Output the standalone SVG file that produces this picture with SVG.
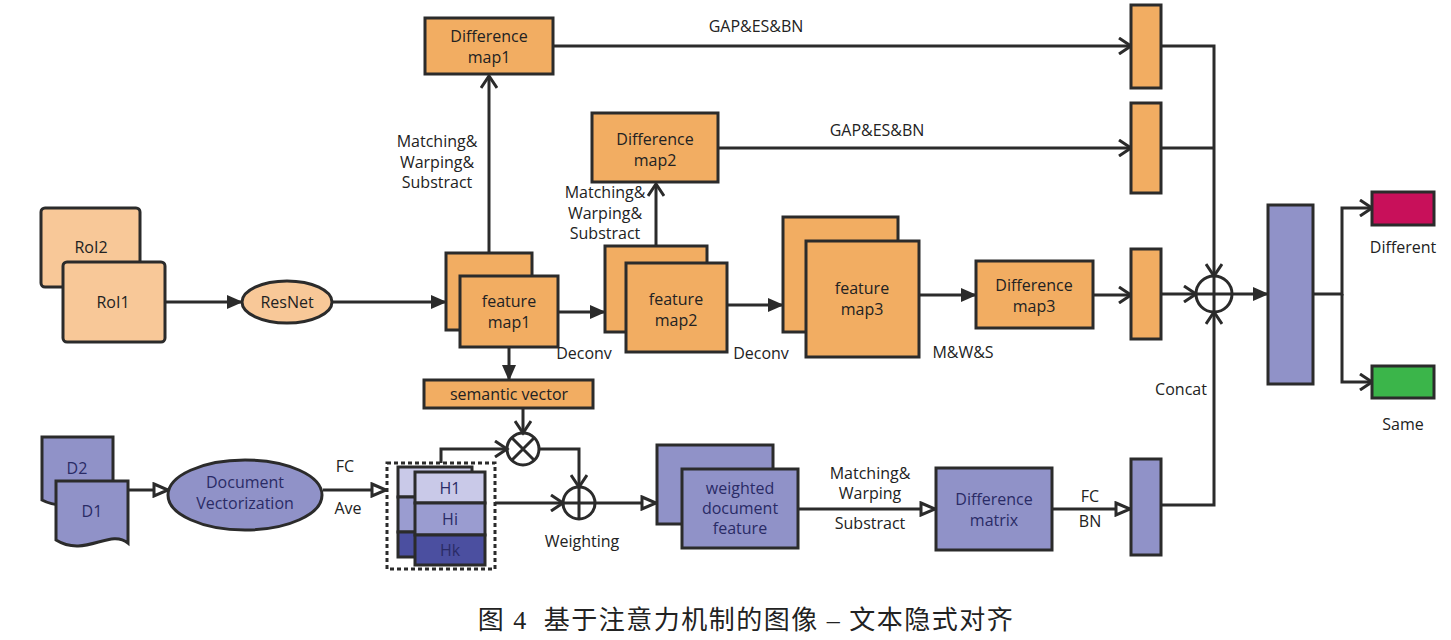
<svg xmlns="http://www.w3.org/2000/svg" width="1451" height="640" viewBox="0 0 1451 640">
<defs>
<marker id="fa" markerUnits="userSpaceOnUse" markerWidth="16" markerHeight="14" refX="15" refY="7" orient="auto"><path d="M0,0 L16,7 L0,14 z" fill="#2b2b2b"/></marker>
<marker id="va" markerUnits="userSpaceOnUse" markerWidth="16" markerHeight="18" refX="13" refY="9" orient="auto"><path d="M1,1 L13,9 L1,17" fill="none" stroke="#2b2b2b" stroke-width="3"/></marker>
<marker id="ha" markerUnits="userSpaceOnUse" markerWidth="18" markerHeight="16" refX="16" refY="8" orient="auto"><path d="M2,2 L16,8 L2,14 z" fill="#fff" stroke="#2b2b2b" stroke-width="3"/></marker>
</defs>
<style>
.o{fill:#f2ad62;stroke:#2b2b2b;stroke-width:3}
.p{fill:#f8c898;stroke:#2b2b2b;stroke-width:3}
.u{fill:#9092c8;stroke:#2b2b2b;stroke-width:3}
.c{fill:none;stroke:#2b2b2b;stroke-width:3}
text{font-family:"Open Sans","Noto Sans",sans-serif;font-size:16px;fill:#222;text-anchor:middle}
.n{fill:#2a2b66}
.cap{font-family:"Liberation Serif","Noto Sans CJK SC",serif;font-size:26px;letter-spacing:1.5px;fill:#222;white-space:pre}
</style>
<rect width="1451" height="640" fill="#fff"/>

<g id="connectors">
<path class="c" d="M165,302 H242" marker-end="url(#fa)"/>
<path class="c" d="M332,302 H446" marker-end="url(#fa)"/>
<path class="c" d="M489,253 V76" marker-end="url(#va)"/>
<path class="c" d="M656,246 V184" marker-end="url(#va)"/>
<path class="c" d="M558,312 H605" marker-end="url(#fa)"/>
<path class="c" d="M727,305 H783" marker-end="url(#fa)"/>
<path class="c" d="M919,295 H976" marker-end="url(#fa)"/>
<path class="c" d="M1093,295 H1131" marker-end="url(#va)"/>
<path class="c" d="M553,46 H1131" marker-end="url(#va)"/>
<path class="c" d="M718,148 H1131" marker-end="url(#va)"/>
<path class="c" d="M1161,46 H1214 V276" marker-end="url(#va)"/>
<path class="c" d="M1161,148 H1214"/>
<path class="c" d="M1161,294 H1196" marker-end="url(#va)"/>
<path class="c" d="M1161,505 H1214 V312" marker-end="url(#va)"/>
<path class="c" d="M1232,294 H1268" marker-end="url(#fa)"/>
<path class="c" d="M1313,294 H1342 V208 H1372" marker-end="url(#va)"/>
<path class="c" d="M1342,294 V382 H1372" marker-end="url(#va)"/>
<path class="c" d="M509,347 V380" marker-end="url(#fa)"/>
<path class="c" d="M523,408 V433" marker-end="url(#va)"/>
<path class="c" d="M441,463 V449 H507" marker-end="url(#va)"/>
<path class="c" d="M539,449 H579 V487" marker-end="url(#va)"/>
<path class="c" d="M495,503 H563" marker-end="url(#va)"/>
<path class="c" d="M595,503 H656" marker-end="url(#ha)"/>
<path class="c" d="M128,490 H168" marker-end="url(#ha)"/>
<path class="c" d="M323,490 H386" marker-end="url(#ha)"/>
<path class="c" d="M798,509 H935" marker-end="url(#ha)"/>
<path class="c" d="M1052,509 H1130" marker-end="url(#ha)"/>
<text x="437" y="147">Matching&amp;</text>
<text x="437" y="168">Warping&amp;</text>
<text x="437" y="188">Substract</text>
<text x="605" y="198">Matching&amp;</text>
<text x="605" y="219">Warping&amp;</text>
<text x="605" y="239">Substract</text>
<text x="756" y="32">GAP&amp;ES&amp;BN</text>
<text x="877" y="136">GAP&amp;ES&amp;BN</text>
<text x="584" y="359">Deconv</text>
<text x="761" y="359">Deconv</text>
<text x="963" y="358">M&amp;W&amp;S</text>
<text x="1181" y="395">Concat</text>
<text x="345" y="472">FC</text>
<text x="348" y="514">Ave</text>
<text x="582" y="547">Weighting</text>
<text x="870" y="479">Matching&amp;</text>
<text x="870" y="499">Warping</text>
<text x="870" y="529">Substract</text>
<text x="1090" y="502">FC</text>
<text x="1090" y="527">BN</text>
</g>

<g id="roi2"><rect class="p" x="41" y="208" width="99" height="79" rx="4"/><text x="91" y="253">RoI2</text></g>
<g id="roi1"><rect class="p" x="63" y="262" width="102" height="80" rx="4"/><text x="113" y="308">RoI1</text></g>
<g id="resnet"><ellipse class="p" cx="287" cy="302" rx="45" ry="21"/><text x="287" y="308">ResNet</text></g>

<g id="diffmap1"><rect class="o" x="425" y="18" width="128" height="56"/><text x="489" y="42">Difference</text><text x="489" y="63">map1</text></g>
<g id="diffmap2"><rect class="o" x="592" y="113" width="126" height="69"/><text x="655" y="145">Difference</text><text x="655" y="166">map2</text></g>

<g id="featuremap1"><rect class="o" x="446" y="253" width="86" height="77"/><rect class="o" x="460" y="276" width="98" height="71"/><text x="509" y="307">feature</text><text x="509" y="328">map1</text></g>
<g id="featuremap2"><rect class="o" x="605" y="246" width="102" height="86"/><rect class="o" x="626" y="263" width="101" height="89"/><text x="676" y="305">feature</text><text x="676" y="326">map2</text></g>
<g id="featuremap3"><rect class="o" x="783" y="217" width="115" height="115"/><rect class="o" x="806" y="241" width="113" height="116"/><text x="862" y="294">feature</text><text x="862" y="315">map3</text></g>
<g id="diffmap3"><rect class="o" x="976" y="261" width="117" height="67"/><text x="1034" y="291">Difference</text><text x="1034" y="312">map3</text></g>

<g id="semvec"><rect class="o" x="424" y="380" width="169" height="28"/><text x="509" y="400">semantic vector</text></g>

<g id="bar1"><rect class="o" x="1131" y="5" width="30" height="83"/></g>
<g id="bar2"><rect class="o" x="1131" y="103" width="30" height="90"/></g>
<g id="bar3"><rect class="o" x="1131" y="249" width="30" height="90"/></g>
<g id="bar4"><rect class="u" x="1131" y="459" width="30" height="96"/></g>

<g id="concat"><circle class="c" cx="1214" cy="294" r="18"/><path class="c" d="M1196,294 H1232 M1214,276 V312"/></g>
<g id="fc"><rect class="u" x="1268" y="205" width="45" height="179"/></g>
<g id="different"><rect x="1372" y="192" width="62" height="33" fill="#c8105a" stroke="#2b2b2b" stroke-width="3"/><text x="1403" y="253">Different</text></g>
<g id="same"><rect x="1372" y="366" width="62" height="32" fill="#3bb54a" stroke="#2b2b2b" stroke-width="3"/><text x="1403" y="430">Same</text></g>

<g id="mult"><circle class="c" cx="523" cy="449" r="16"/><path class="c" d="M512,438 L534,460 M534,438 L512,460"/></g>
<g id="add"><circle class="c" cx="579" cy="503" r="16"/><path class="c" d="M563,503 H595 M579,487 V519"/></g>

<g id="d2"><path class="u" d="M42,437 H113 V500 C95,490 70,515 42,500 Z"/><text x="77" y="474" class="n">D2</text></g>
<g id="d1"><path class="u" d="M56,481 H128 V543 C110,528 85,558 56,540 Z"/><text x="92" y="517" class="n">D1</text></g>
<g id="docvec"><ellipse class="u" cx="245" cy="495" rx="77" ry="35"/><text x="245" y="488" class="n">Document</text><text x="245" y="509" class="n">Vectorization</text></g>

<g id="hbox">
<rect x="387" y="463" width="108" height="106" fill="none" stroke="#2b2b2b" stroke-width="3" stroke-dasharray="4,3"/>
<rect x="398" y="467" width="74" height="30" fill="#c9c9e8" stroke="#2b2b2b" stroke-width="3"/>
<rect x="398" y="497" width="74" height="35" fill="#9a9cd0" stroke="#2b2b2b" stroke-width="3"/>
<rect x="398" y="532" width="74" height="25" fill="#4b4fa0" stroke="#2b2b2b" stroke-width="3"/>
<rect x="415" y="472" width="70" height="31" fill="#c9c9e8" stroke="#2b2b2b" stroke-width="3"/>
<rect x="415" y="503" width="70" height="32" fill="#9a9cd0" stroke="#2b2b2b" stroke-width="3"/>
<rect x="415" y="535" width="70" height="30" fill="#4b4fa0" stroke="#2b2b2b" stroke-width="3"/>
<text x="450" y="494" class="n">H1</text><text x="450" y="525" class="n">Hi</text><text x="450" y="556" class="n">Hk</text>
</g>

<g id="weighted"><rect class="u" x="657" y="445" width="116" height="79"/><rect class="u" x="682" y="469" width="116" height="79"/><text x="740" y="494" class="n">weighted</text><text x="740" y="514" class="n">document</text><text x="740" y="534" class="n">feature</text></g>
<g id="diffmatrix"><rect class="u" x="936" y="468" width="116" height="82"/><text x="994" y="505" class="n">Difference</text><text x="994" y="526" class="n">matrix</text></g>

<text class="cap" x="746" y="629" xml:space="preserve">图 4  基于注意力机制的图像 – 文本隐式对齐</text>
</svg>
